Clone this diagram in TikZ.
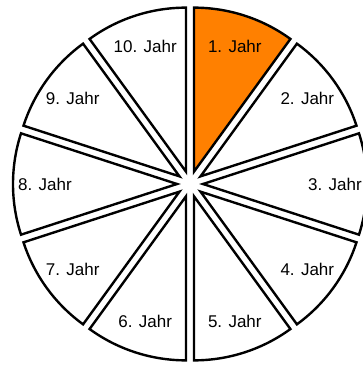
\documentclass[tikz,border=0pt]{standalone}
\usepackage{fontspec}
\setmainfont{Liberation Sans}
\definecolor{secorange}{RGB}{255,128,0}
\begin{document}
\begin{tikzpicture}[
  sec/.style={draw=black, line width=2.4pt, line join=miter},
  lab/.style={font=\fontsize{17}{20}\selectfont, inner sep=0pt}
]
\useasboundingbox (-190pt,-181pt) rectangle (173pt,184pt);
\foreach \k/\c in {1/secorange,2/white,3/white,4/white,5/white,6/white,7/white,8/white,9/white,10/white} {
  \pgfmathsetmacro\aone{90-36*(\k-1)}
  \pgfmathsetmacro\atwo{90-36*\k}
  \pgfmathsetmacro\amid{108-36*\k}
  \draw[sec, fill=\c, shift={(\amid:13pt)}] (0,0) -- (\aone:164pt) arc[start angle=\aone, end angle=\atwo, radius=164pt] -- cycle;
  \node[lab] (l\k) at (\amid:145pt) {\k. Jahr};
}
\end{tikzpicture}
\end{document}
